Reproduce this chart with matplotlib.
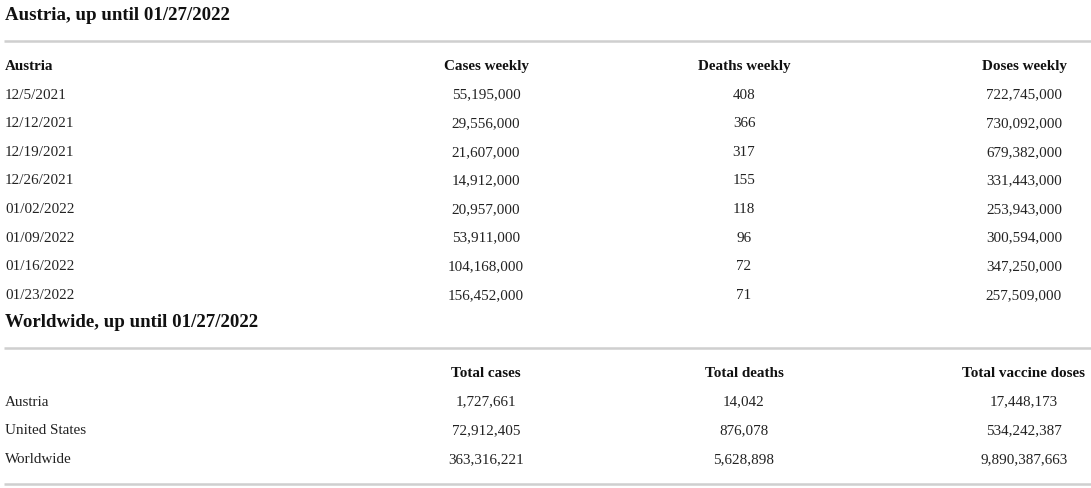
import matplotlib
matplotlib.use("Agg")
import matplotlib.pyplot as plt

# data
title_top = "Austria, up until 01/27/2022"
cols_top = ["Austria", "Cases weekly", "Deaths weekly", "Doses weekly"]
weeks = ["12/5/2021", "12/12/2021", "12/19/2021", "12/26/2021",
         "01/02/2022", "01/09/2022", "01/16/2022", "01/23/2022"]
cases_weekly = [55195000, 29556000, 21607000, 14912000,
                20957000, 53911000, 104168000, 156452000]
deaths_weekly = [408, 366, 317, 155, 118, 96, 72, 71]
doses_weekly = [722745000, 730092000, 679382000, 331443000,
                253943000, 300594000, 347250000, 257509000]

title_bot = "Worldwide, up until 01/27/2022"
cols_bot = ["", "Total cases", "Total deaths", "Total vaccine doses"]
regions = ["Austria", "United States", "Worldwide"]
total_cases = [1727661, 72912405, 363316221]
total_deaths = [14042, 876078, 5628898]
total_doses = [17448173, 534242387, 9890387663]

W, H = 1091, 488
fig = plt.figure(figsize=(W / 100, H / 100), dpi=100)
ax = fig.add_axes([0, 0, 1, 1])
ax.set_xlim(0, W)
ax.set_ylim(H, 0)
ax.axis("off")

FONT = "Liberation Serif"
col_x = [5, 486, 744, 1024]   # first col left aligned, others centred
row_h = 28.6
rule_col = "#cfcfcf"
txt_col = "#222222"
BODY = 10.9
DROP = 5   # centre line -> baseline, in px


def draw_block(y0, title, cols, labels, series, bottom_rule=False):
    ax.text(5, y0 + 6, title, fontsize=13.6, fontweight="bold", family=FONT,
            color="#111111", va="baseline", ha="left")
    ax.plot([4, W], [y0 + 27, y0 + 27], color=rule_col, lw=1.8,
            solid_capstyle="butt")
    yh = y0 + 51
    for i, c in enumerate(cols):
        ax.text(col_x[i], yh + DROP, c, fontsize=BODY, fontweight="bold",
                family=FONT, color="#111111", va="baseline",
                ha="left" if i == 0 else "center")
    for r, lab in enumerate(labels):
        y = yh + (r + 1) * row_h + DROP
        ax.text(col_x[0], y, lab, fontsize=BODY, family=FONT,
                color=txt_col, va="baseline", ha="left")
        for j, s in enumerate(series):
            ax.text(col_x[j + 1], y, f"{s[r]:,}", fontsize=BODY,
                    family=FONT, color=txt_col, va="baseline", ha="center")
    if bottom_rule:
        yb = yh + len(labels) * row_h + 26
        ax.plot([4, W], [yb, yb], color=rule_col, lw=1.8,
                solid_capstyle="butt")


draw_block(14, title_top, cols_top, weeks,
           [cases_weekly, deaths_weekly, doses_weekly])
draw_block(321, title_bot, cols_bot, regions,
           [total_cases, total_deaths, total_doses], bottom_rule=True)

fig.savefig("out.png", dpi=100, facecolor="white")
